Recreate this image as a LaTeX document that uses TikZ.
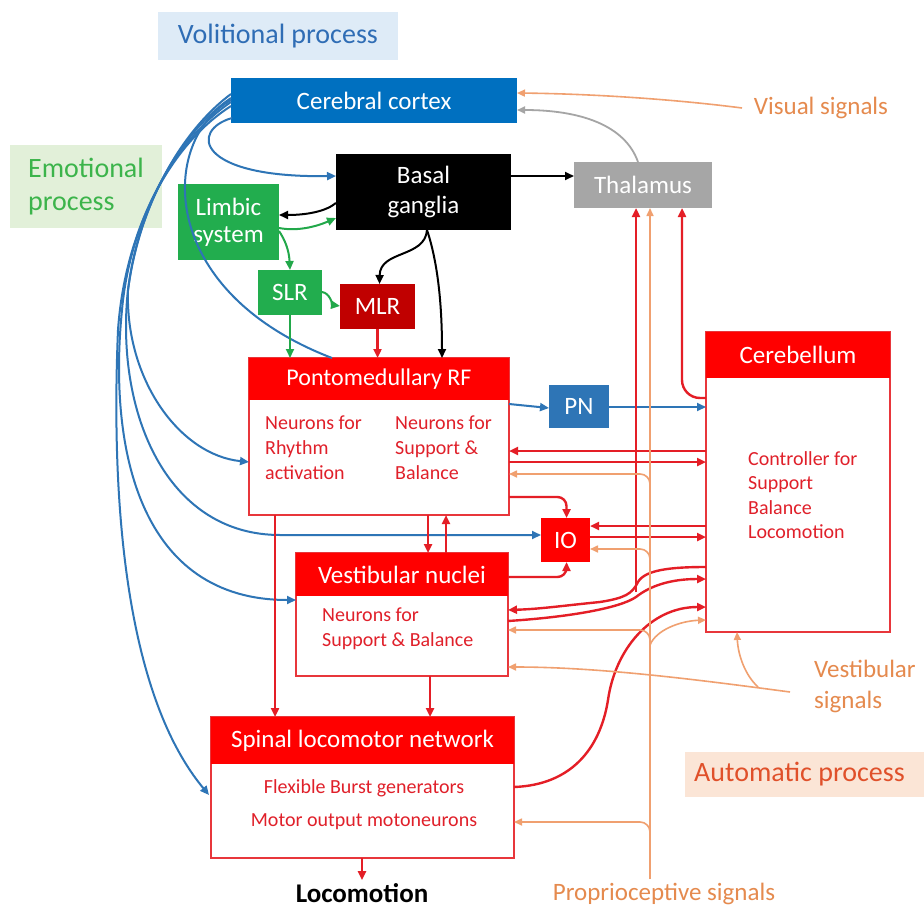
\documentclass[tikz,border=0pt]{standalone}
\usepackage{fontspec}
\setmainfont{Carlito}
\usetikzlibrary{arrows.meta,calc}
\definecolor{ccblue}{HTML}{0070C0}
\definecolor{lblue}{HTML}{2E75B6}
\definecolor{volfill}{HTML}{DEEBF7}
\definecolor{voltext}{HTML}{2F6DB5}
\definecolor{emofill}{HTML}{E2F0D9}
\definecolor{emotext}{HTML}{3CB44B}
\definecolor{limgreen}{HTML}{22AD4E}
\definecolor{lgreen}{HTML}{22A84A}
\definecolor{mlrred}{HTML}{C00000}
\definecolor{hred}{HTML}{FF0000}
\definecolor{lred}{HTML}{E41E26}
\definecolor{bred}{HTML}{E8363B}
\definecolor{tred}{HTML}{E0202A}
\definecolor{thgray}{HTML}{A6A6A6}
\definecolor{lgray}{HTML}{A5A5A5}
\definecolor{orng}{HTML}{E58A4E}
\definecolor{lorng}{HTML}{F0A070}
\definecolor{autofill}{HTML}{FBE5D6}
\definecolor{autotext}{HTML}{E0502A}
\newcommand\fsz[2]{\fontsize{#1pt}{#2pt}\selectfont}
\begin{document}
\begin{tikzpicture}[x=1pt,y=-1pt,
  fbox/.style={anchor=north west, inner sep=0pt, outer sep=0pt, align=center, text=white, font=\fsz{25}{30}},
  bodybox/.style={anchor=north west, draw=bred, line width=1.3pt, fill=white, inner sep=0pt, outer sep=0pt},
  bodytxt/.style={text=tred, align=left, inner sep=0pt, font=\fsz{20}{24.6}},
  bl/.style={draw=lblue, line width=2pt, -{Triangle[length=9pt,width=8pt]}},
  rd/.style={draw=lred, line width=2.4pt, -{Triangle[length=9pt,width=8pt]}},
  bk/.style={draw=black, line width=2pt, -{Triangle[length=9pt,width=8pt]}},
  gr/.style={draw=lgreen, line width=2pt, -{Triangle[length=9pt,width=8pt]}},
  og/.style={draw=lorng, line width=1.6pt, -{Triangle[length=8pt,width=7pt]}},
  gy/.style={draw=lgray, line width=1.8pt, -{Triangle[length=8pt,width=7pt]}}]
\useasboundingbox (0,0) rectangle (924,910);
\fill[white] (0,0) rectangle (924,910);

% ---------- labels / process boxes ----------
\node[fbox, fill=volfill, text=voltext, font=\fsz{28}{32}, minimum width=240pt, minimum height=48pt] (vol) at (158,12) {Volitional process};
\node[fbox, fill=emofill, text=emotext, font=\fsz{28}{33}, minimum width=152pt, minimum height=83pt, align=left] (emo) at (10,145) {Emotional\\process};
\node[fbox, fill=autofill, text=autotext, font=\fsz{28}{32}, minimum width=245pt, minimum height=45pt] (auto) at (685,752) {\hspace*{-16pt}Automatic process};

% ---------- simple boxes ----------
\node[fbox, fill=ccblue, minimum width=286pt, minimum height=45pt] (cc) at (231,78) {Cerebral cortex};
\node[fbox, fill=black, minimum width=175pt, minimum height=76pt] (bg) at (336,154) {Basal\\ganglia};
\node[fbox, fill=thgray, minimum width=138pt, minimum height=46pt] (th) at (574,162) {Thalamus};
\node[fbox, fill=limgreen, font=\fsz{25}{27}, minimum width=101pt, minimum height=76pt] (lim) at (178,184) {Limbic\\system};
\node[fbox, fill=limgreen, minimum width=64pt, minimum height=45pt] (slr) at (258,270) {SLR};
\node[fbox, fill=mlrred, minimum width=75pt, minimum height=45pt] (mlr) at (340,284) {MLR};
\node[fbox, fill=lblue, minimum width=60pt, minimum height=43pt] (pn) at (549,385) {PN};
\node[fbox, fill=hred, minimum width=49pt, minimum height=44pt] (io) at (541,518) {IO};

% ---------- boxes with headers ----------
\node[bodybox, minimum width=260pt, minimum height=157pt] (rf) at (249,358) {};
\node[fbox, fill=hred, font=\fsz{24}{28}, minimum width=260pt, minimum height=42pt] (rfh) at (249,358) {Pontomedullary RF};
\node[bodytxt, anchor=north west] (rft1) at (265,416) {Neurons for\\Rhythm\\activation};
\node[bodytxt, anchor=north west] (rft2) at (395,416) {Neurons for\\Support \&\\Balance};

\node[bodybox, minimum width=184pt, minimum height=300pt] (cb) at (706,332) {};
\node[fbox, fill=hred, minimum width=184pt, minimum height=46pt] (cbh) at (706,332) {Cerebellum};
\node[bodytxt, anchor=north west] (cbt) at (748,451) {Controller for\\Support\\Balance\\Locomotion};

\node[bodybox, minimum width=212pt, minimum height=123pt] (vn) at (296,553) {};
\node[fbox, fill=hred, minimum width=212pt, minimum height=43pt] (vnh) at (296,553) {Vestibular nuclei};
\node[bodytxt, anchor=north west, font=\fsz{20}{25}] (vnt) at (322,608) {Neurons for\\Support \& Balance};

\node[bodybox, minimum width=303pt, minimum height=141pt] (sp) at (211,717) {};
\node[fbox, fill=hred, minimum width=303pt, minimum height=47pt] (sph) at (211,717) {Spinal locomotor network};
\node[bodytxt, font=\fsz{20}{24}] (spt1) at (364,788) {Flexible Burst generators};
\node[bodytxt, font=\fsz{20}{24}] (spt2) at (364,822) {Motor output motoneurons};

% ---------- free texts ----------
\node[inner sep=0pt, font=\bfseries\fsz{27}{31}] (loco) at (362,893) {Locomotion};
\node[inner sep=0pt, text=orng, font=\fsz{25}{30}] (vis) at (821,108) {Visual signals};
\node[inner sep=0pt, text=orng, font=\fsz{25}{31}, align=left, anchor=north west] (vsig) at (814,660) {Vestibular\\signals};
\node[inner sep=0pt, text=orng, font=\fsz{25}{30}] (prop) at (664,894) {Proprioceptive signals};

\coordinate (vs1) at (790,692);
\coordinate (vs2) at (758,687);
\coordinate (propb) at (650,879);
\coordinate (visa) at (742,108);

% ---------- blue connectors ----------
\draw[bl] ($(cc.south west)+(1,-5)$) .. controls (190,130) and (195,178) .. (bg.west |- 0,176);
\draw[bl,-] (cc.west |- 0,100) .. controls (160,140) and (155,290) .. ($(rf.north west)+(83,0)$);
\draw[bl] (cc.west |- 0,94) .. controls (185,128) and (140,200) .. (128,290) .. controls (125,380) and (180,455) .. (rf.west |- 0,462);
\draw[bl] (cc.west |- 0,98) .. controls (180,133) and (135,210) .. (127,300) .. controls (118,420) and (170,535) .. (280,535) -- (io.west |- 0,535);
\draw[bl] (cc.west |- 0,102) .. controls (175,140) and (130,220) .. (122,310) .. controls (108,450) and (140,600) .. (vn.west |- 0,600);
\draw[bl] (cc.west |- 0,106) .. controls (170,145) and (125,230) .. (118,330) .. controls (110,520) and (130,700) .. ($(sp.west |- 0,795)+(-2,0)$);
\draw[bl] ($(rf.east |- 0,404)$) -- (pn.west |- 0,408);
\draw[bl] (pn.east |- 0,407) -- (cb.west |- 0,407);

% ---------- black connectors ----------
\draw[bk] (bg.east |- 0,176) -- (th.west |- 0,176);
\draw[bk] (bg.west |- 0,203) .. controls (325,212) and (305,215) .. (lim.east |- 0,215);
\draw[bk] ($(bg.south west)+(91,0)$) .. controls (425,258) and (380,250) .. ($(mlr.north)+(2,0)$);
\draw[bk] ($(bg.south west)+(91,0)$) .. controls (437,260) and (442,300) .. ($(rf.north west)+(193,0)$);

% ---------- green connectors ----------
\draw[gr] (lim.east |- 0,228) .. controls (300,232) and (320,225) .. (bg.west |- 0,218);
\draw[gr] (lim.east |- 0,231) .. controls (285,240) and (289,250) .. (slr.north);
\draw[gr] (slr.east |- 0,292) .. controls (330,293) and (333,305) .. (mlr.west |- 0,306);
\draw[gr] (slr.south) -- (slr.south |- rf.north);

% ---------- red connectors ----------
\draw[rd] (mlr.south) -- (mlr.south |- rf.north);
\draw[rd] ($(rf.south west)+(179,0)$) -- ($(vn.north west)+(132,0)$);
\draw[rd] ($(vn.north west)+(150,0)$) -- ($(rf.south west)+(197,0)$);
\draw[rd] ($(rf.south west)+(26,0)$) -- ($(sp.north west)+(64,0)$);
\draw[rd] ($(vn.south west)+(134,0)$) -- ($(sp.north west)+(219,0)$);
\draw[rd] ($(sp.south west)+(151,0)$) -- ($(loco.north)+(0,-3)$);
\draw[rd, rounded corners=9pt] (rf.east |- 0,497) -| ($(io.north)+(1,0)$);
\draw[rd, rounded corners=9pt] (vn.east |- 0,577) -| ($(io.south)+(1,0)$);
\draw[rd] (cb.west |- 0,451) -- (rf.east |- 0,451);
\draw[rd] (rf.east |- 0,462) -- (cb.west |- 0,462);
\draw[rd] (cb.west |- 0,526) -- (io.east |- 0,526);
\draw[rd] (io.east |- 0,537) -- (cb.west |- 0,537);
\draw[rd] (cb.west |- 0,567) .. controls (670,567) and (645,570) .. (638,582) .. controls (632,594) and (625,598) .. (600,602) .. controls (560,606) and (540,609) .. (vn.east |- 0,610);
\draw[rd] (636,592) -- (th.south -| 636,0);
\draw[rd] (vn.east |- 0,621) .. controls (570,617) and (620,608) .. (636,597) .. controls (650,586) and (670,579) .. (cb.west |- 0,579);
\draw[rd] (sp.east |- 0,787) .. controls (570,785) and (600,750) .. (608,700) .. controls (615,650) and (650,607) .. (cb.west |- 0,607);
\draw[rd, rounded corners=18pt] (cb.west |- 0,398) -| (th.south -| 682,0);

% ---------- orange connectors ----------
\draw[og] (propb) -- (th.south -| 650,0);
\draw[og, rounded corners=10pt] (650,500) |- (rf.east |- 0,474);
\draw[og, rounded corners=10pt] (650,575) |- (io.east |- 0,549);
\draw[og, rounded corners=10pt] (650,650) |- (vn.east |- 0,630);
\draw[og] (650,645) .. controls (656,630) and (680,621) .. (cb.west |- 0,620);
\draw[og, rounded corners=10pt] (650,845) |- (sp.east |- 0,822);
\draw[og] (vs1) .. controls (700,680) and (600,667) .. (vn.east |- 0,667);
\draw[og] (vs2) .. controls (745,675) and (738,655) .. ($(cb.south west)+(31,0)$);
\draw[og] (visa) .. controls (680,100) and (600,94) .. (cc.east |- 0,93);

% ---------- gray connector ----------
\draw[gy] (th.north -| 638,0) .. controls (625,125) and (580,110) .. (cc.east |- 0,110);
\end{tikzpicture}
\end{document}
